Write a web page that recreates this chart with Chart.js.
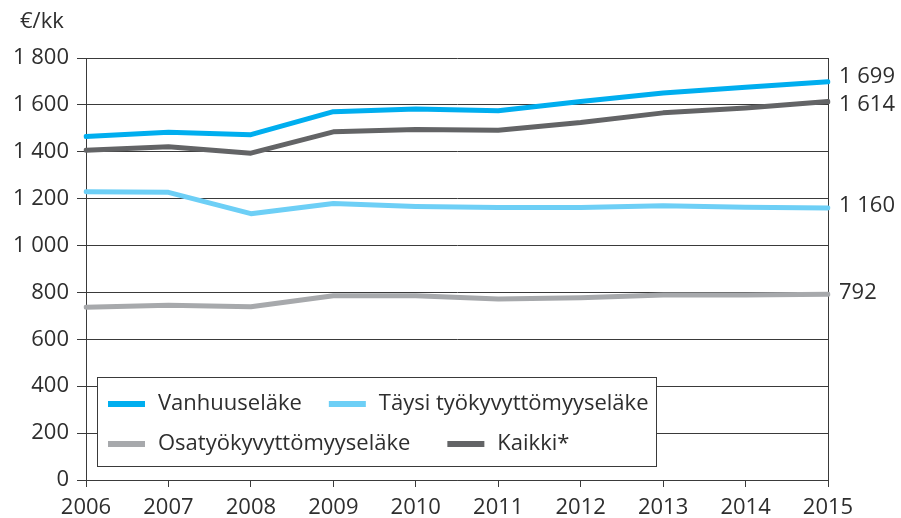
<!DOCTYPE html>
<html>
<head>
<meta charset="utf-8">
<script src="https://cdn.jsdelivr.net/npm/chart.js@4"></script>
<style>
  html, body { margin: 0; padding: 0; background: #fff; }
  #wrap { width: 901px; height: 518px; }
</style>
</head>
<body>
<div id="wrap"><canvas id="pension-chart" width="901" height="518"></canvas></div>
<script>
// Average pension per month, 2006–2015

const years = ['2006','2007','2008','2009','2010','2011','2012','2013','2014','2015'];
const vanhuus = [1465, 1483, 1473, 1571, 1582, 1575, 1614, 1651, 1675, 1699];
const taysi   = [1230, 1227, 1136, 1179, 1167, 1162, 1162, 1170, 1163, 1160];
const osa     = [737, 745, 739, 786, 786, 772, 777, 789, 789, 792];
const kaikki  = [1406, 1421, 1394, 1485, 1495, 1492, 1525, 1566, 1587, 1614];

const seriesNames = ['Vanhuuseläke', 'Täysi työkyvyttömyyseläke', 'Osatyökyvyttömyyseläke', 'Kaikki*'];
const COLORS = ['#00aeef', '#6dcff6', '#a7a9ac', '#636466'];
const yTicks = [0, 200, 400, 600, 800, 1000, 1200, 1400, 1600, 1800];

const FONT = '"Open Sans", sans-serif';
const FS = 22;
const TEXT = '#2e2e2e';
const GRID = '#3a3a3a';

// end labels nudged apart so the top two don't collide
const labelShift = { 'Vanhuuseläke': -5, 'Kaikki*': 3, 'Täysi työkyvyttömyyseläke': -2, 'Osatyökyvyttömyyseläke': -2 };

// "1 800" style thousands
const fmt = v => String(Math.round(v)).replace(/\B(?=(\d{3})+(?!\d))/g, ' ');

const extras = {
  id: 'extras',
  afterDatasetsDraw(chart) {
    const { ctx, chartArea } = chart;
    ctx.save();
    ctx.font = `${FS}px ${FONT}`;
    ctx.fillStyle = TEXT;

    // unit
    ctx.textAlign = 'left';
    ctx.textBaseline = 'middle';
    ctx.fillText('€/kk', 20, 22);

    // end values
    chart.data.datasets.forEach((ds, i) => {
      const meta = chart.getDatasetMeta(i);
      const pt = meta.data[meta.data.length - 1];
      ctx.fillText(fmt(ds.data[ds.data.length - 1]), chartArea.right + 11, pt.y + labelShift[ds.label]);
    });

    // legend box inside the plot
    const box = { x: chartArea.left + 11, y: 377, w: 559, h: 89 };
    ctx.fillStyle = '#fff';
    ctx.fillRect(box.x, box.y, box.w, box.h);
    ctx.strokeStyle = GRID;
    ctx.lineWidth = 1;
    ctx.strokeRect(box.x + 0.5, box.y + 0.5, box.w, box.h);

    const rows = [[0, 1], [2, 3]];
    const gaps = [27, 37];
    rows.forEach((row, r) => {
      let x = box.x + 11;
      const y = box.y + 27 + r * 40;
      row.forEach(i => {
        ctx.fillStyle = COLORS[i];
        ctx.fillRect(x, y - 3, 37, 6);
        ctx.fillStyle = TEXT;
        ctx.fillText(seriesNames[i], x + 50, y);
        x += 50 + ctx.measureText(seriesNames[i]).width + gaps[r];
      });
    });
    ctx.restore();
  }
};

const mk = (label, data, color) => ({
  label, data,
  borderColor: color,
  backgroundColor: color,
  borderWidth: 5,
  borderCapStyle: 'round',
  borderJoinStyle: 'round',
  pointRadius: 0,
  tension: 0,
});

new Chart(document.getElementById('pension-chart'), {
  type: 'line',
  data: {
    labels: years,
    datasets: [
      mk(seriesNames[2], osa, COLORS[2]),
      mk(seriesNames[1], taysi, COLORS[1]),
      mk(seriesNames[3], kaikki, COLORS[3]),
      mk(seriesNames[0], vanhuus, COLORS[0]),
    ],
  },
  options: {
    responsive: false,
    animation: false,
    layout: { padding: { top: 58, right: 73, left: 0, bottom: 0 } },
    plugins: {
      legend: { display: false },
      tooltip: { enabled: false },
    },
    scales: {
      x: {
        offset: false,
        grid: {
          color: c => (c.index === 0 || c.index === years.length - 1) ? GRID : 'transparent',
          tickColor: GRID,
          tickLength: 7,
          lineWidth: 1,
        },
        border: { color: GRID },
        ticks: { color: TEXT, font: { family: FONT, size: FS }, padding: 8, maxRotation: 0 },
        afterFit: s => { s.height = 38; },
      },
      y: {
        min: 0,
        max: 1800,
        afterBuildTicks: s => { s.ticks = yTicks.map(v => ({ value: v })); },
        grid: { color: GRID, tickColor: GRID, tickLength: 9, lineWidth: 1 },
        border: { color: GRID },
        ticks: { color: TEXT, font: { family: FONT, size: FS }, padding: 8, callback: v => fmt(v) },
        afterFit: s => { s.width = 86; },
      },
    },
  },
  plugins: [extras],
});
</script>
</body>
</html>
